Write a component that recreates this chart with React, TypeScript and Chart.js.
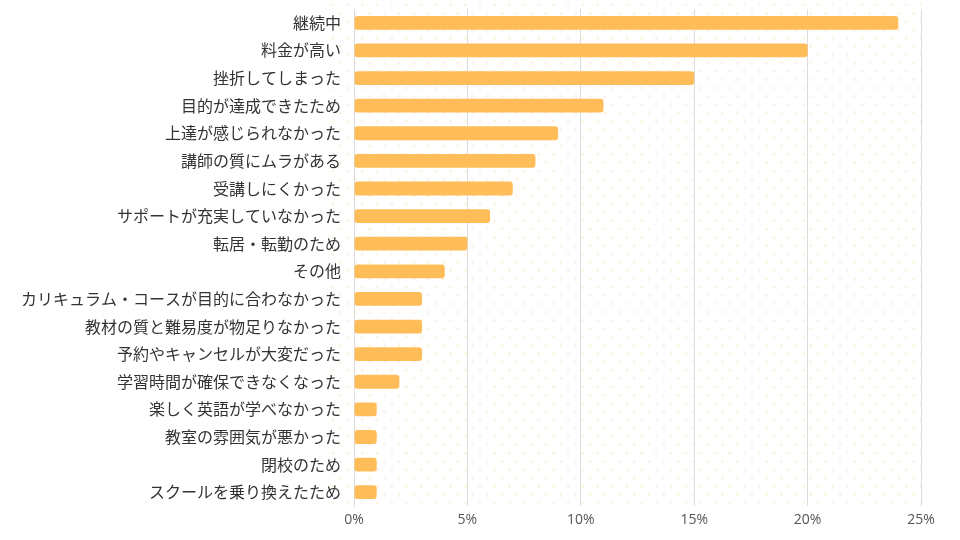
import React, { useEffect, useRef } from "react";
import { Chart, registerables } from "chart.js";

Chart.register(...registerables);

const categories = [
  "継続中",
  "料金が高い",
  "挫折してしまった",
  "目的が達成できたため",
  "上達が感じられなかった",
  "講師の質にムラがある",
  "受講しにくかった",
  "サポートが充実していなかった",
  "転居・転勤のため",
  "その他",
  "カリキュラム・コースが目的に合わなかった",
  "教材の質と難易度が物足りなかった",
  "予約やキャンセルが大変だった",
  "学習時間が確保できなくなった",
  "楽しく英語が学べなかった",
  "教室の雰囲気が悪かった",
  "閉校のため",
  "スクールを乗り換えたため",
];

const values = [24, 20, 15, 11, 9, 8, 7, 6, 5, 4, 3, 3, 3, 2, 1, 1, 1, 1];

const xTicks = [0, 5, 10, 15, 20, 25];

const dotPlugin = {
  id: "dots",
  beforeDraw(chart: any) {
    const { ctx, chartArea } = chart;
    const x0 = chartArea.left - 24;
    const x1 = chartArea.right + 2;
    const y0 = chartArea.top - 5;
    const y1 = chartArea.bottom - 2;
    ctx.save();
    ctx.fillStyle = "#fff3e6";
    const dy = 8.3;
    const dx = 14.7;
    let row = 0;
    for (let y = y0 + 1; y <= y1; y += dy, row++) {
      const off = row % 2 === 0 ? 0 : dx / 2;
      for (let x = x0 + 3 + off; x <= x1; x += dx) {
        ctx.beginPath();
        ctx.arc(x, y, 1.6, 0, Math.PI * 2);
        ctx.fill();
      }
    }
    ctx.restore();
  },
};

export default function App() {
  const ref = useRef<HTMLCanvasElement>(null);
  useEffect(() => {
    if (!ref.current) return;
    const chart = new Chart(ref.current, {
      type: "bar",
      data: {
        labels: categories,
        datasets: [
          {
            data: values,
            backgroundColor: "#ffbd5a",
            borderRadius: 3,
            borderSkipped: false,
            barPercentage: 0.5,
            categoryPercentage: 1,
          },
        ],
      },
      plugins: [dotPlugin],
      options: {
        indexAxis: "y",
        responsive: false,
        animation: false,
        layout: { padding: { left: 0, right: 39, top: 9, bottom: 0 } },
        plugins: { legend: { display: false }, tooltip: { enabled: false } },
        scales: {
          x: {
            min: 0,
            max: 25,
            afterFit(scale: any) {
              scale.height = 34;
              scale.paddingLeft = 0;
              scale.paddingRight = 0;
            },
            afterBuildTicks(scale: any) {
              scale.ticks = xTicks.map((v) => ({ value: v }));
            },
            grid: { color: "#dcdcdc", drawTicks: false, lineWidth: 1 },
            border: { display: false },
            ticks: {
              padding: 6,
              color: "#555",
              font: { family: "'Open Sans', sans-serif", size: 14 },
              callback: (v: any) => v + "%",
            },
          },
          y: {
            afterFit(scale: any) {
              scale.width = 354;
              scale.paddingTop = 0;
              scale.paddingBottom = 0;
            },
            grid: { display: false, drawTicks: false },
            border: { display: true, color: "#dcdcdc" },
            ticks: {
              padding: 13,
              color: "#333",
              autoSkip: false,
              font: { family: "'Noto Sans CJK JP', sans-serif", size: 16 },
            },
          },
        },
      },
    });
    return () => chart.destroy();
  }, []);
  return (
    <div style={{ position: "fixed", left: 0, top: 0, width: 960, height: 540, background: "#fff" }}>
      <canvas ref={ref} width={960} height={540} />
    </div>
  );
}
